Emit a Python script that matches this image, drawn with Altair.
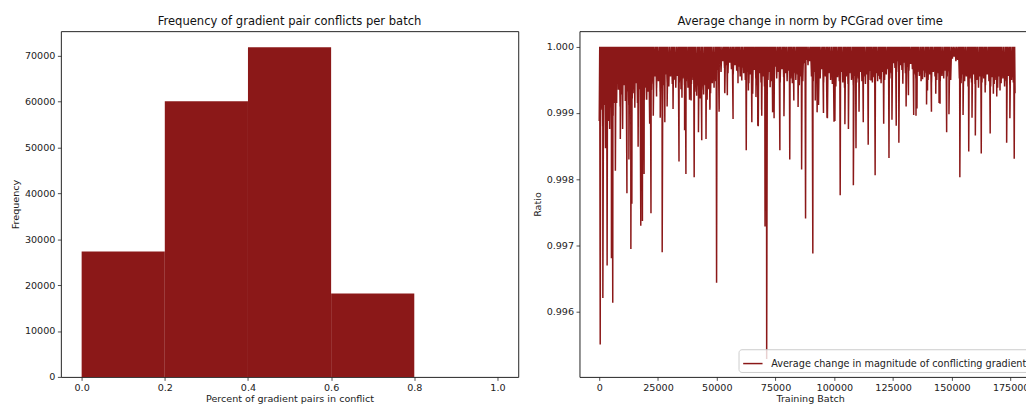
import altair as alt
import pandas as pd

RED = "#8b1818"
FONT = "DejaVu Sans"

# ---------- Left panel: histogram ----------
bin_start = [0.0, 0.2, 0.4, 0.6, 0.8]
bin_end = [0.2, 0.4, 0.6, 0.8, 1.0]
bin_count = [27310, 60060, 71770, 18140, 0]

# ---------- Right panel: ratio over training batches ----------
# deep dips (training batch, ratio)
spike_batch = [420, 1540, 2660, 3360, 4070, 5190, 5750, 6170, 6870, 7850,
               8970, 9950, 10940, 11780, 12620, 13460, 13880, 15140, 16540, 17670,
               18370, 19070, 20190, 21450, 22010, 22990, 24390, 25940, 26780, 27900,
               28880, 31400, 33930, 35190, 36310, 36870, 38410, 40380, 42200, 43600,
               45420, 47110, 49910, 51030, 53420, 56920, 59020, 62530, 64910, 67440,
               69120, 70520, 71220, 73750, 76830, 81040, 86080, 87760, 90850, 92670,
               96880, 100240, 102490, 105990, 108090, 109210, 112300, 114400, 117350, 120990,
               123240, 126320, 127440, 130530, 134730, 139220, 144550, 147770, 148750, 153380,
               157160, 158560, 159970, 162490, 166280, 169080, 173290, 176510]
spike_ratio = [0.99551, 0.99621, 0.99847, 0.99670, 0.99888, 0.99681, 0.99614, 0.99915, 0.99813, 0.99945,
               0.99861, 0.99876, 0.99942, 0.99779, 0.99830, 0.99695, 0.99763, 0.99908, 0.99849, 0.99730,
               0.99737, 0.99808, 0.99920, 0.99884, 0.99749, 0.99896, 0.99925, 0.99893, 0.99690, 0.99886,
               0.99910, 0.99906, 0.99827, 0.99923, 0.99874, 0.99808, 0.99920, 0.99803, 0.99871, 0.99859,
               0.99861, 0.99908, 0.99644, 0.99906, 0.99930, 0.99891, 0.99945, 0.99844, 0.99886, 0.99881,
               0.99896, 0.99729, 0.99529, 0.99901, 0.99844, 0.99830, 0.99815, 0.99741, 0.99688, 0.99901,
               0.99893, 0.99888, 0.99776, 0.99876, 0.99791, 0.99847, 0.99886, 0.99852, 0.99806, 0.99884,
               0.99832, 0.99881, 0.99855, 0.99910, 0.99896, 0.99913, 0.99915, 0.99871, 0.99898, 0.99803,
               0.99842, 0.99893, 0.99866, 0.99839, 0.99869, 0.99925, 0.99855, 0.99831]

# medium dips (training batch, ratio)
mid_batch = [39080, 47060, 50980, 53360, 54480, 58960, 60640, 63450, 65270, 66670,
             67650, 69050, 72690, 74370, 78570, 82770, 84580, 91890, 93280, 95380,
             97060, 99870, 104490, 110500, 115550, 119330, 124510, 129130, 131510, 133750,
             135150, 137520, 139620, 141300, 143140, 144960, 154750, 164160, 167650, 170460,
             174660]
mid_ratio = [0.99919, 0.99905, 0.99902, 0.99931, 0.99927, 0.99961, 0.99949, 0.99934, 0.99929, 0.99924,
             0.99880, 0.99905, 0.99939, 0.99892, 0.99895, 0.99919, 0.99909, 0.99919, 0.99912, 0.99900,
             0.99892, 0.99887, 0.99883, 0.99902, 0.99949, 0.99951, 0.99890, 0.99944, 0.99927, 0.99897,
             0.99907, 0.99951, 0.99934, 0.99902, 0.99929, 0.99914, 0.99897, 0.99931, 0.99929, 0.99934,
             0.99892]

# dense band of small dips, one every 740 batches starting at batch 0
band_step = 740
band_ratio = [
    0.99888, 0.99905, 0.99880, 0.99912, 0.99892, 0.99902, 0.99876, 0.99908, 0.99896, 0.99925,
    0.99915, 0.99935, 0.99910, 0.99928, 0.99942, 0.99918, 0.99932, 0.99912, 0.99940, 0.99922,
    0.99930, 0.99945, 0.99915, 0.99936, 0.99926, 0.99948, 0.99920, 0.99938, 0.99932, 0.99950,
    0.99935, 0.99944, 0.99955, 0.99938, 0.99948, 0.99932, 0.99952, 0.99942, 0.99958, 0.99946,
    0.99940, 0.99955, 0.99944, 0.99950, 0.99938, 0.99956, 0.99946, 0.99936, 0.99952, 0.99942,
    0.99948, 0.99938, 0.99955, 0.99944, 0.99950, 0.99932, 0.99926, 0.99940, 0.99922, 0.99935,
    0.99928, 0.99942, 0.99920, 0.99936, 0.99930, 0.99945, 0.99938, 0.99948, 0.99965, 0.99975,
    0.99962, 0.99978, 0.99968, 0.99972, 0.99960, 0.99976, 0.99966, 0.99958, 0.99972, 0.99964,
    0.99970, 0.99955, 0.99968, 0.99960, 0.99950, 0.99962, 0.99945, 0.99958, 0.99948, 0.99965,
    0.99952, 0.99942, 0.99960, 0.99946, 0.99955, 0.99940, 0.99958, 0.99950, 0.99962, 0.99948,
    0.99956, 0.99970, 0.99952, 0.99962, 0.99946, 0.99966, 0.99954, 0.99960, 0.99948, 0.99964,
    0.99952, 0.99945, 0.99960, 0.99950, 0.99958, 0.99942, 0.99955, 0.99948, 0.99975, 0.99980,
    0.99972, 0.99978, 0.99955, 0.99948, 0.99962, 0.99945, 0.99958, 0.99952, 0.99966, 0.99946,
    0.99955, 0.99942, 0.99960, 0.99950, 0.99944, 0.99958, 0.99940, 0.99954, 0.99948, 0.99962,
    0.99946, 0.99938, 0.99955, 0.99944, 0.99960, 0.99950, 0.99942, 0.99956, 0.99946, 0.99952,
    0.99962, 0.99948, 0.99955, 0.99944, 0.99958, 0.99950, 0.99964, 0.99946, 0.99954, 0.99960,
    0.99948, 0.99956, 0.99945, 0.99962, 0.99950, 0.99958, 0.99966, 0.99952, 0.99960, 0.99975,
    0.99968, 0.99978, 0.99962, 0.99972, 0.99965, 0.99976, 0.99960, 0.99970, 0.99964, 0.99974,
    0.99966, 0.99958, 0.99952, 0.99962, 0.99956, 0.99948, 0.99964, 0.99954, 0.99960, 0.99950,
    0.99958, 0.99946, 0.99962, 0.99955, 0.99950, 0.99960, 0.99948, 0.99956, 0.99952, 0.99964,
    0.99955, 0.99962, 0.99950, 0.99982, 0.99985, 0.99978, 0.99980, 0.99952, 0.99945, 0.99958,
    0.99948, 0.99955, 0.99940, 0.99952, 0.99946, 0.99958, 0.99944, 0.99950, 0.99938, 0.99955,
    0.99946, 0.99952, 0.99942, 0.99958, 0.99948, 0.99940, 0.99954, 0.99944, 0.99950, 0.99938,
    0.99955, 0.99945, 0.99952, 0.99940, 0.99948, 0.99956, 0.99942, 0.99950, 0.99946, 0.99930,
]
peak_ratio = 1.0

series_name = "Average change in magnitude of conflicting gradients"

# ---------- build tables ----------
hist_df = pd.DataFrame({"start": bin_start, "end": bin_end, "count": bin_count})

dips = sorted(list(zip(spike_batch, spike_ratio)) +
              list(zip(mid_batch, mid_ratio)) +
              [(i * band_step, r) for i, r in enumerate(band_ratio)])
rows = []
for k, (b, r) in enumerate(dips):
    rows.append((b, r))
    if k + 1 < len(dips):
        rows.append(((b + dips[k + 1][0]) / 2.0, peak_ratio))
line_df = pd.DataFrame(rows, columns=["batch", "ratio"])
line_df["idx"] = range(len(line_df))
line_df["series"] = series_name

W, H = 463, 350
W2 = 467
TICK_FS = 9.7

hist = alt.Chart(hist_df).mark_bar(color=RED).encode(
    x=alt.X("start:Q",
            scale=alt.Scale(domain=[-0.05, 1.05], nice=False, zero=False),
            axis=alt.Axis(values=[0.0, 0.2, 0.4, 0.6, 0.8, 1.0], format=".1f",
                          title="Percent of gradient pairs in conflict")),
    x2="end:Q",
    y=alt.Y("count:Q",
            scale=alt.Scale(domain=[0, 75300], nice=False),
            axis=alt.Axis(values=[0, 10000, 20000, 30000, 40000, 50000, 60000, 70000],
                          format="d", title="Frequency")),
    y2=alt.datum(0),
).properties(width=W, height=H,
             title=alt.TitleParams("Frequency of gradient pair conflicts per batch"))

line = alt.Chart(line_df).mark_line(strokeWidth=1.5).encode(
    x=alt.X("batch:Q",
            scale=alt.Scale(domain=[-8400, 187820], nice=False, zero=False),
            axis=alt.Axis(values=[0, 25000, 50000, 75000, 100000, 125000, 150000, 175000],
                          format="d", title="Training Batch")),
    y=alt.Y("ratio:Q",
            scale=alt.Scale(domain=[0.99502, 1.000235], nice=False, zero=False),
            axis=alt.Axis(values=[0.996, 0.997, 0.998, 0.999, 1.0], format=".3f",
                          title="Ratio")),
    color=alt.Color("series:N", scale=alt.Scale(range=[RED]),
                    legend=alt.Legend(title=None, orient="bottom-right", offset=5,
                                      padding=3.5, strokeColor="#cccccc", cornerRadius=3,
                                      fillColor="rgba(255,255,255,0.8)",
                                      symbolType="stroke", symbolSize=384,
                                      symbolStrokeWidth=1.5, labelFontSize=9.8,
                                      labelOffset=7.5,
                                      labelColor="#222222", labelLimit=0,
                                      labelFont=FONT)),
    order="idx:Q",
).properties(width=W2, height=H,
             title=alt.TitleParams("Average change in norm by PCGrad over time"))

chart = alt.hconcat(hist, line, spacing=12).resolve_scale(
    color="independent"
).resolve_legend(
    color="independent"
).configure(
    font=FONT, padding={"left": 1.5, "top": 4, "right": -16, "bottom": -2}
).configure_view(
    stroke="#222222", strokeWidth=1
).configure_axis(
    domain=False, grid=False, ticks=True, tickColor="#222222", tickSize=3.5,
    tickWidth=0.8, labelFontSize=TICK_FS, labelColor="#222222", labelFont=FONT,
    titleFontSize=TICK_FS, titleFontWeight="normal", titleColor="#222222", titleFont=FONT,
    labelPadding=2.5, titlePadding=1.5
).configure_axisY(
    titlePadding=4
).configure_title(
    fontSize=11.7, fontWeight="normal", color="#111111", font=FONT, anchor="middle", offset=4
)

chart.save("out.html", embed_options={"renderer": "svg", "actions": False})
